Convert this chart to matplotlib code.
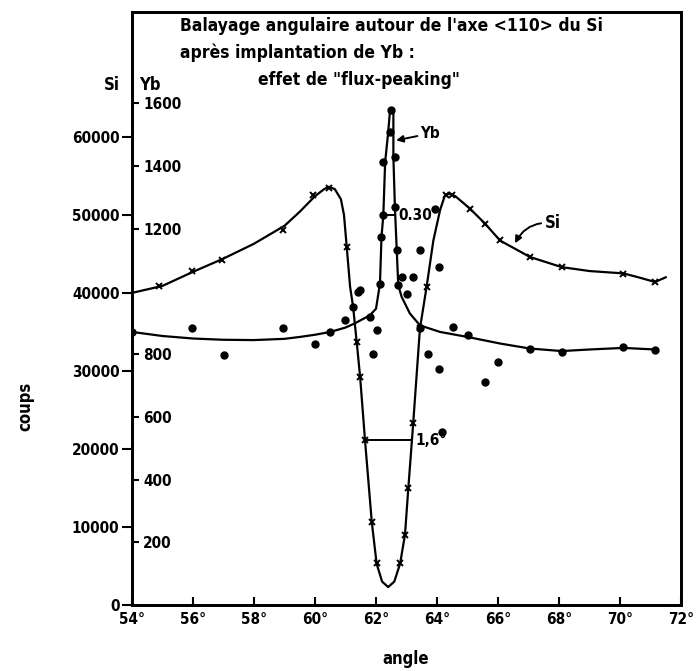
import matplotlib
matplotlib.use("Agg")
import matplotlib.pyplot as plt
from matplotlib.ticker import FixedLocator, FuncFormatter

plt.rcParams['font.family'] = ['DejaVu Sans']
plt.rcParams['font.weight'] = 'bold'
plt.rcParams['font.stretch'] = 'condensed'

# ---------------- data ----------------
# Si channelling curve (left axis, counts)
si_curve_x = [54.0, 55.0, 56.0, 57.0, 58.0, 59.0, 59.5, 60.0, 60.3, 60.45, 60.65, 60.85,
              60.95, 61.04, 61.15, 61.25, 61.37, 61.48, 61.64, 61.86, 62.02, 62.2, 62.4,
              62.6, 62.79, 62.95, 63.06, 63.22, 63.44, 63.66, 63.88, 64.10, 64.26, 64.4,
              64.6, 65.08, 65.57, 66.07, 67.05, 68.09, 69.0, 70.11, 70.6, 71.15, 71.5]
si_curve_y = [40000, 40900, 42700, 44400, 46300, 48600, 50400, 52400, 53300, 53600, 53300, 52000,
              50000, 45900, 40800, 38200, 33600, 29200, 21100, 10700, 5300, 3000, 2300,
              3000, 5300, 9000, 15000, 23300, 35400, 40800, 46700, 50600, 52500, 52700,
              52400, 50800, 48900, 46700, 44600, 43300, 42800, 42500, 42000, 41400, 42000]
si_pts_x = [54.9, 55.96, 56.94, 58.95, 59.93, 60.45, 61.04, 61.37, 61.48, 61.64, 61.86,
            62.02, 62.79, 62.95, 63.06, 63.22, 63.44, 63.66, 64.3, 64.48, 65.08, 65.57,
            66.07, 67.05, 68.09, 70.11, 71.15]
si_pts_y = [40850, 42770, 44270, 48030, 52500, 53500, 45900, 33700, 29240, 21100, 10670,
            5340, 5340, 8960, 14950, 23270, 35440, 40770, 52500, 52500, 50800, 48890,
            46750, 44610, 43330, 42480, 41400]

# Yb curve (inner axis, counts)
yb_curve_x = [54.0, 55.0, 56.0, 57.0, 58.0, 59.0, 59.5, 60.0, 60.5, 61.0, 61.3, 61.8,
              62.0, 62.13, 62.18, 62.24, 62.3, 62.4, 62.46, 62.57, 62.57, 62.62, 62.68,
              62.73, 62.84, 63.11, 63.44, 64.1, 65.0, 66.07, 67.05, 68.09, 69.0, 70.11, 71.15]
yb_curve_y = [871, 858, 850, 846, 845, 849, 855, 862, 871, 885, 898, 924,
              945, 1025, 1174, 1243, 1413, 1508, 1578, 1578, 1429, 1269, 1131,
              1020, 983, 930, 892, 871, 855, 834, 818, 810, 815, 820, 815]
yb_pts_x = [54.0, 55.96, 57.0, 58.96, 60.0, 60.49, 60.98, 61.26, 61.42, 61.48, 61.8, 61.91,
            62.02, 62.13, 62.18, 62.24, 62.24, 62.46, 62.5, 62.62, 62.62, 62.68, 62.73,
            62.84, 63.0, 63.22, 63.44, 63.44, 63.72, 63.93, 64.05, 64.05, 64.15, 64.54,
            65.03, 65.57, 66.0, 67.05, 68.09, 70.11, 71.15]
yb_pts_y = [871, 882, 797, 882, 834, 871, 908, 951, 998, 1004, 919, 802,
            876, 1025, 1174, 1243, 1413, 1508, 1578, 1429, 1269, 1131, 1020,
            1046, 993, 1046, 1131, 882, 802, 1264, 1078, 754, 552, 887,
            861, 712, 775, 818, 807, 823, 813]

# half-width markers
si_fwhm_x = [61.64, 63.15]
si_fwhm_y = [21100, 21100]
yb_fwhm_x = [62.24, 62.62]
yb_fwhm_y = [1243, 1243]

x_ticks = [54, 56, 58, 60, 62, 64, 66, 68, 70, 72]
x_ticklabels = ["54°", "56°", "58°", "60°", "62°", "64°", "66°", "68°", "70°", "72°"]
si_ticks = [0, 10000, 20000, 30000, 40000, 50000, 60000]
yb_ticks = [200, 400, 600, 800, 1200, 1400, 1600]

SI_TOP = 76000
YB_RATIO = 40.18

# ---------------- figure ----------------
W, H = 696, 671
fig = plt.figure(figsize=(W / 100, H / 100), dpi=100)
L, R, B, T = 132, 681, 605, 12
ax = fig.add_axes([L / W, 1 - B / H, (R - L) / W, (B - T) / H])
ax.set_xlim(54, 72)
ax.set_ylim(0, SI_TOP)

ax2 = ax.twinx()
ax2.set_ylim(0, SI_TOP / YB_RATIO)
for a in (ax, ax2):
    for s in a.spines.values():
        s.set_linewidth(2.0)
        s.set_color('black')

fs = 11
# x ticks
ax.xaxis.set_major_locator(FixedLocator(x_ticks))
ax.set_xticklabels(x_ticklabels, fontsize=fs, fontweight='bold')
ax.tick_params(axis='x', direction='in', length=6, width=1.5, pad=5)

# Si ticks (left, outside)
ax.yaxis.set_major_locator(FixedLocator(si_ticks))
ax.yaxis.set_major_formatter(FuncFormatter(lambda v, p: f"{int(v)}"))
ax.tick_params(axis='y', direction='out', length=7, width=1.5, pad=2, labelsize=fs)

# Yb ticks (on left spine, labels inside)
ax2.yaxis.tick_left()
ax2.yaxis.set_major_locator(FixedLocator(yb_ticks))
ax2.yaxis.set_major_formatter(FuncFormatter(lambda v, p: f"{int(v)}"))
ax2.tick_params(axis='y', direction='in', length=5, width=1.5, pad=-8, labelsize=fs)
for lab in ax2.get_yticklabels():
    lab.set_horizontalalignment('left')
    lab.set_fontweight('bold')
for lab in ax.get_yticklabels():
    lab.set_fontweight('bold')

# curves
ax.plot(si_curve_x, si_curve_y, color='black', lw=1.6, zorder=3)
ax.plot(si_pts_x, si_pts_y, linestyle='none', marker='x', ms=4, mew=1.4, color='black', zorder=4)
ax.plot(si_fwhm_x, si_fwhm_y, color='black', lw=1.4)

ax2.plot(yb_curve_x, yb_curve_y, color='black', lw=1.6, zorder=3)
ax2.plot(yb_pts_x, yb_pts_y, linestyle='none', marker='o', ms=5, color='black', zorder=4)
ax2.plot(yb_fwhm_x, yb_fwhm_y, color='black', lw=1.4)

# annotations
ax.text(63.3, 21100, "1,6°", fontsize=fs, fontweight='bold', va='center', ha='left')
ax2.text(62.72, 1243, "0.30°", fontsize=fs, fontweight='bold', va='center', ha='left')
ax2.annotate("Yb", xy=(62.66, 1482), xytext=(63.45, 1504), fontsize=fs, fontweight='bold',
             va='center', ha='left',
             arrowprops=dict(arrowstyle='-|>', color='black', lw=1.4, mutation_scale=10,
                             shrinkA=0, shrinkB=0))
ax.annotate("Si", xy=(66.56, 46360), xytext=(67.55, 48920), fontsize=fs + 1, fontweight='bold',
            va='center', ha='left',
            arrowprops=dict(arrowstyle='-|>', color='black', lw=1.4, mutation_scale=10,
                            shrinkA=1, shrinkB=0, connectionstyle='arc3,rad=0.35'))

def axfrac(px, py):
    return (px - L) / (R - L), (B - py) / (B - T)

tfs = 12.5
ax.text(*axfrac(180, 26), "Balayage angulaire autour de l'axe <110> du Si", transform=ax.transAxes,
        fontsize=tfs, fontweight='bold', va='center', ha='left')
ax.text(*axfrac(180, 53), "après implantation de Yb :", transform=ax.transAxes,
        fontsize=tfs, fontweight='bold', va='center', ha='left')
ax.text(*axfrac(258, 80), "effet de \"flux-peaking\"", transform=ax.transAxes,
        fontsize=tfs, fontweight='bold', va='center', ha='left')

fig.text(112 / W, 1 - 85 / H, "Si", fontsize=fs + 1, fontweight='bold', va='center', ha='center')
ax.text(*axfrac(150, 85), "Yb", transform=ax.transAxes, fontsize=fs + 1, fontweight='bold',
        va='center', ha='center')

fig.text(25 / W, 1 - 406 / H, "coups", rotation=90, fontsize=fs + 1, fontweight='bold',
         va='center', ha='center')
fig.text(406 / W, 1 - 659 / H, "angle", fontsize=fs + 1, fontweight='bold',
         va='center', ha='center')

fig.savefig("out.png", dpi=100, facecolor='white')
